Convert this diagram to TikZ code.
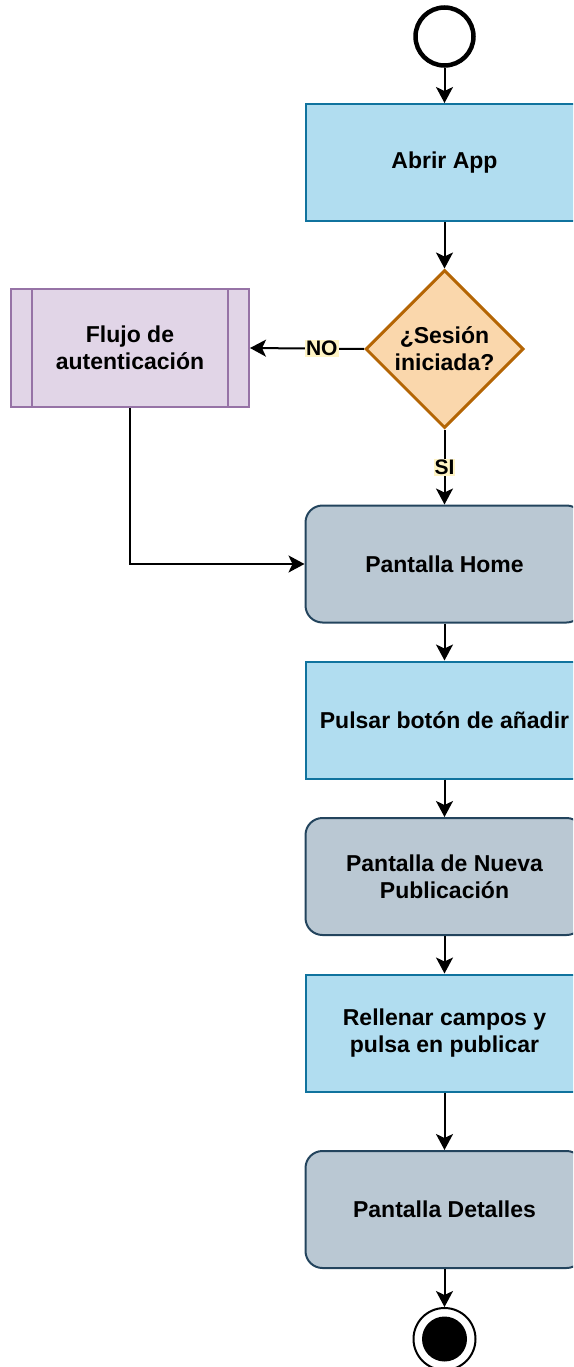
\documentclass[tikz,border=0pt]{standalone}
\usepackage{fontspec}
\setmainfont{Liberation Sans}
\usetikzlibrary{shapes.geometric,arrows.meta,calc}

\definecolor{procfill}{HTML}{B1DDF0}
\definecolor{procline}{HTML}{10739E}
\definecolor{screenfill}{HTML}{BAC8D3}
\definecolor{screenline}{HTML}{23445D}
\definecolor{decfill}{HTML}{FAD7AC}
\definecolor{decline}{HTML}{B46504}
\definecolor{subfill}{HTML}{E1D5E7}
\definecolor{subline}{HTML}{9673A6}
\definecolor{labelbg}{HTML}{FFF4C4}

\tikzset{
  boxtext/.style={font=\bfseries\fontsize{23}{27}\selectfont, align=center, text=black},
  procbox/.style={boxtext, rectangle, draw=procline, fill=procfill, line width=2pt,
    minimum width=278pt, minimum height=117pt, inner sep=0pt},
  screenbox/.style={boxtext, rectangle, rounded corners=17pt, draw=screenline, fill=screenfill,
    line width=2pt, minimum width=278pt, minimum height=117pt, inner sep=0pt},
  decbox/.style={boxtext, diamond, aspect=1, draw=decline, fill=decfill, line width=3pt,
    minimum width=158pt, minimum height=158pt, inner sep=0pt},
  subbox/.style={boxtext, rectangle, draw=subline, fill=subfill, line width=2pt,
    minimum width=238pt, minimum height=118pt, inner sep=0pt},
  flow/.style={line width=2pt, draw=black, -{Stealth[length=16pt,width=17pt,inset=4pt]}},
  edgelabel/.style={font=\bfseries\fontsize{21}{24}\selectfont, fill=labelbg, inner sep=1pt, text=black},
  startnode/.style={circle, draw=black, line width=4.5pt, fill=white, minimum size=58pt, inner sep=0pt},
  endnode/.style={circle, draw=black, line width=2pt, fill=white, minimum size=62pt, inner sep=0pt}
}

\begin{document}
\begin{tikzpicture}[x=1pt,y=-1pt]
\useasboundingbox (0,0) rectangle (573,1367);
\clip (0,0) rectangle (573,1367);

% start and end markers
\node[startnode] (start) at (444.5,36.5) {};
\node[endnode] (stop) at (444.5,1339) {};
\fill[black] (stop.center) circle (22.5pt);

% main column
\node[procbox]   (app)     at (444.5,162.5) {Abrir App};
\node[decbox]    (sesion)  at (444.5,349)   {¿Sesión\\iniciada?};
\node[screenbox] (home)    at (444.5,564)   {Pantalla Home};
\node[procbox]   (anadir)  at (444.5,720)   {Pulsar botón de añadir};
\node[screenbox] (nueva)   at (444.5,876.5) {Pantalla de Nueva\\Publicación};
\node[procbox]   (campos)  at (444.5,1033)  {Rellenar campos y\\pulsa en publicar};
\node[screenbox] (detalle) at (444.5,1209.5){Pantalla Detalles};

% authentication subprocess
\node[subbox] (auth) at (130,348) {Flujo de\\autenticación};
\draw[subline, line width=2pt]
  ($(auth.north west)+(22,0)$) -- ($(auth.south west)+(22,0)$)
  ($(auth.north east)+(-22,0)$) -- ($(auth.south east)+(-22,0)$);

% connectors
\draw[flow] (start) -- (app);
\draw[flow] (app) -- (sesion);
\draw[flow] (sesion.west) -- node[edgelabel, pos=0.37] {NO} (auth.east);
\draw[flow] (sesion.south) -- node[edgelabel, pos=0.51] {SI} (home.north);
\draw[flow] (auth.south) |- (home.west);
\draw[flow] (home) -- (anadir);
\draw[flow] (anadir) -- (nueva);
\draw[flow] (nueva) -- (campos);
\draw[flow] (campos) -- (detalle);
\draw[flow] (detalle) -- (stop);
\end{tikzpicture}
\end{document}
